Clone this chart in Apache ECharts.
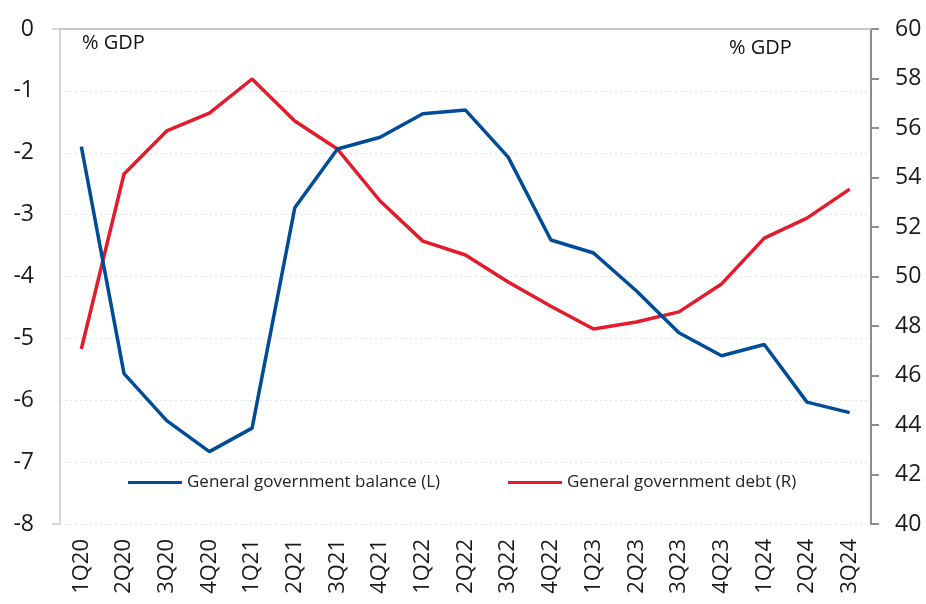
<!DOCTYPE html>
<html>
<head>
<meta charset="utf-8">
<style>
  html, body { margin: 0; padding: 0; background: #fff; }
  #chart { width: 926px; height: 604px; }
</style>
<script src="https://cdn.jsdelivr.net/npm/echarts@6/dist/echarts.min.js"></script>
</head>
<body>
<div id="chart"></div>
<script>
// Quarterly categories
const quarters = ['1Q20','2Q20','3Q20','4Q20','1Q21','2Q21','3Q21','4Q21','1Q22','2Q22','3Q22','4Q22','1Q23','2Q23','3Q23','4Q23','1Q24','2Q24','3Q24'];

// General government balance, % GDP (left axis)
const balance = [-1.9, -5.57, -6.33, -6.83, -6.45, -2.89, -1.94, -1.75, -1.37, -1.31, -2.07, -3.41, -3.62, -4.23, -4.91, -5.28, -5.10, -6.03, -6.20];

// General government debt, % GDP (right axis)
const debt = [47.07, 54.14, 55.88, 56.6, 57.98, 56.28, 55.15, 53.05, 51.43, 50.87, 49.78, 48.8, 47.88, 48.16, 48.57, 49.7, 51.55, 52.36, 53.53];

const seriesNames = ['General government balance (L)', 'General government debt (R)'];
const unitLabel = '% GDP';

const BLUE = '#004c97';
const RED = '#e31b2c';
const FONT = 'Open Sans';

const legendBase = {
  top: 469, itemWidth: 54, itemHeight: 3, icon: 'rect',
  textStyle: { fontFamily: FONT, fontSize: 17, color: '#222' }
};

const chart = echarts.init(document.getElementById('chart'));

chart.setOption({
  animation: false,
  backgroundColor: '#fff',
  textStyle: { fontFamily: FONT },
  grid: { left: 60, right: 55, top: 29, bottom: 80, containLabel: false },
  legend: [
    Object.assign({ left: 123, data: [seriesNames[0]] }, legendBase),
    Object.assign({ left: 503, data: [seriesNames[1]] }, legendBase)
  ],
  graphic: [
    { type: 'text', left: 82, top: 33, style: { text: unitLabel, font: '20px "Open Sans"', fill: '#111' } },
    { type: 'text', left: 729, top: 38, style: { text: unitLabel, font: '20px "Open Sans"', fill: '#111' } }
  ],
  xAxis: [
    {
      type: 'category', data: quarters, boundaryGap: true, position: 'bottom',
      axisLine: { show: false }, axisTick: { show: false },
      axisLabel: { rotate: 90, margin: 15, fontSize: 22, color: '#1a1a1a', fontFamily: FONT }
    },
    {
      type: 'category', data: quarters, boundaryGap: true, position: 'top',
      axisLine: { show: true, lineStyle: { color: '#c8c8c8', width: 2 } },
      axisTick: { show: false }, axisLabel: { show: false }
    }
  ],
  yAxis: [
    {
      type: 'value', min: -8, max: 0, interval: 1, position: 'left',
      axisLine: { show: true, lineStyle: { color: '#c8c8c8', width: 1.5 } },
      axisTick: { show: false },
      axisLabel: { margin: 26, fontSize: 23, color: '#1a1a1a', fontFamily: FONT },
      splitLine: { show: true, lineStyle: { color: '#e2e2e2', type: [2, 3], width: 1 } }
    },
    {
      type: 'value', min: 40, max: 60, interval: 2, position: 'right',
      axisLine: { show: true, lineStyle: { color: '#8c8c8c', width: 2 } },
      axisTick: { show: true, length: 8, lineStyle: { color: '#8c8c8c', width: 2 } },
      axisLabel: { margin: 24, fontSize: 23, color: '#1a1a1a', fontFamily: FONT },
      splitLine: { show: false }
    },
    {
      // end ticks on the left axis
      type: 'value', min: -8, max: 0, interval: 8, position: 'left',
      axisLine: { show: false },
      axisTick: { show: true, length: 8, lineStyle: { color: '#c8c8c8', width: 1.5 } },
      axisLabel: { show: false }, splitLine: { show: false }
    }
  ],
  series: [
    {
      name: seriesNames[0], type: 'line', data: balance, yAxisIndex: 0,
      symbol: 'none', lineStyle: { color: BLUE, width: 3.5 }, itemStyle: { color: BLUE }, z: 3
    },
    {
      name: seriesNames[1], type: 'line', data: debt, yAxisIndex: 1,
      symbol: 'none', lineStyle: { color: RED, width: 3.5 }, itemStyle: { color: RED }, z: 2
    }
  ]
});
</script>
</body>
</html>
